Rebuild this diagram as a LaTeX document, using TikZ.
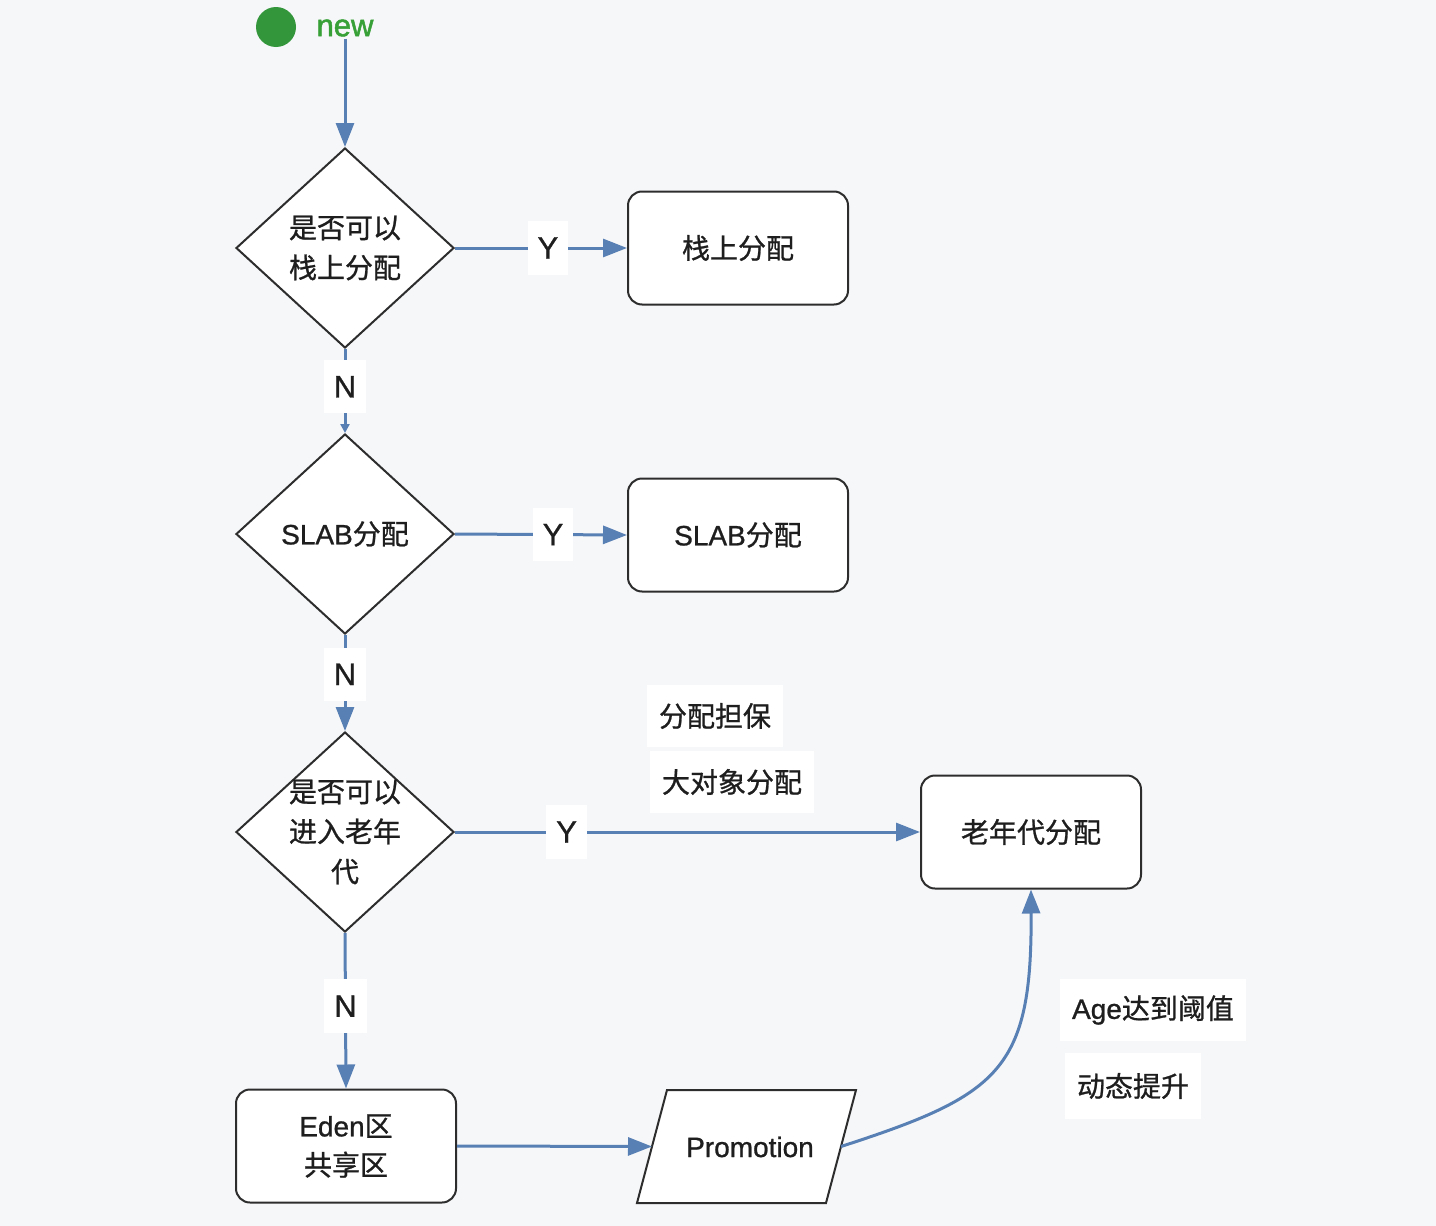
\documentclass[tikz,border=0pt]{standalone}
\usepackage{fontspec}
\setmainfont{Noto Sans CJK SC}[FakeBold=0.9]
\newfontfamily\lat{Liberation Sans}[FakeBold=0.9]
\newfontfamily\latb{Liberation Sans}[FakeBold=1.6]
\usetikzlibrary{shapes.geometric,arrows.meta}
\definecolor{bgcol}{RGB}{246,247,249}
\definecolor{arrcol}{RGB}{88,128,180}
\definecolor{boxcol}{RGB}{45,45,45}
\definecolor{txtcol}{RGB}{30,30,30}
\definecolor{startgreen}{RGB}{52,150,58}
\definecolor{newgreen}{RGB}{55,160,55}
\tikzset{
  dia/.style={diamond, draw=boxcol, fill=white, line width=2pt, minimum width=218pt, minimum height=200pt, inner sep=0pt},
  rbox/.style={rectangle, rounded corners=14pt, draw=boxcol, fill=white, line width=2pt, minimum width=220pt, minimum height=113pt, inner sep=0pt, text=txtcol, align=center, font=\fontsize{28}{39}\selectfont},
  pshape/.style={draw=boxcol, fill=white, line width=2pt, line join=miter},
  dtxt/.style={text=txtcol, align=center, font=\fontsize{28}{40}\selectfont, inner sep=0pt},
  arr/.style={draw=arrcol, line width=3pt, -{Triangle[length=24pt,width=18pt]}},
  smallarr/.style={draw=arrcol, line width=3pt, -{Triangle[length=9pt,width=9pt]}},
  yn/.style={fill=white, text=txtcol, font=\lat\fontsize{31}{31}\selectfont, inner xsep=10pt, inner ysep=16pt},
  note/.style={fill=white, text=txtcol, font=\fontsize{28}{28}\selectfont, inner xsep=12pt, minimum height=62pt},
}
\begin{document}
\begin{tikzpicture}[x=1pt,y=-1pt]
\fill[bgcol] (0,0) rectangle (1436,1226);
\useasboundingbox (0,0) rectangle (1436,1226);

% start
\node[circle, fill=startgreen, minimum size=40pt, inner sep=0pt] (start) at (276,27) {};
\node[text=newgreen, font=\latb\fontsize{31}{31}\selectfont, inner sep=2pt] (newlbl) at (345,28) {new};

% decisions
\node[dia] (d1) at (345,248) {};
\node[dtxt] (d1t) at (d1) {是否可以\\栈上分配};
\node[dia] (d2) at (345,534) {};
\node[dtxt] (d2t) at (d2) {{\lat SLAB}分配};
\node[dia] (d3) at (345,832) {};
\node[dtxt] (d3t) at (d3) {是否可以\\进入老年\\代};

% boxes
\node[rbox] (b1) at (738,248) {栈上分配};
\node[rbox] (b2) at (738,535) {{\lat SLAB}分配};
\node[rbox] (old) at (1031,832) {老年代分配};
\node[rbox] (eden) at (346,1146) {{\lat Eden}区\\共享区};

% promotion parallelogram
\draw[pshape] (637,1203) -- (826,1203) -- (856,1090) -- (667,1090) -- cycle;
\coordinate (promL) at (652,1146.5);
\coordinate (promR) at (841,1146.5);
\node[text=txtcol, font=\lat\fontsize{28}{28}\selectfont, inner sep=0pt] (prom) at (750,1147) {Promotion};

% connectors
\draw[arr] (newlbl.south) -- (d1.north);
\draw[arr] (d1.east) -- node[yn, pos=0.54] (y1) {Y} (b1.west);
\draw[smallarr] (d1.south) -- node[yn, pos=0.45] (n1) {N} (d2.north);
\draw[arr] (d2.east) -- node[yn, pos=0.57] (y2) {Y} (b2.west);
\draw[arr] (d2.south) -- node[yn, pos=0.41] (n2) {N} (d3.north);
\draw[arr] (d3.east) -- node[yn, pos=0.24] (y3) {Y} (old.west);
\draw[arr] (d3.south) -- node[yn, pos=0.47] (n3) {N} (eden.north);
\draw[arr] (eden.east) -- (promL);
\draw[arr] (promR) .. controls (1000,1095) and (1032,1070) .. (old.south);

% notes
\node[note] (nt1) at (715,716) {分配担保};
\node[note] (nt2) at (732,782) {大对象分配};
\node[note] (nt3) at (1153,1010) {{\lat Age}达到阈值};
\node[note, minimum height=66pt] (nt4) at (1133,1086) {动态提升};
\end{tikzpicture}
\end{document}
